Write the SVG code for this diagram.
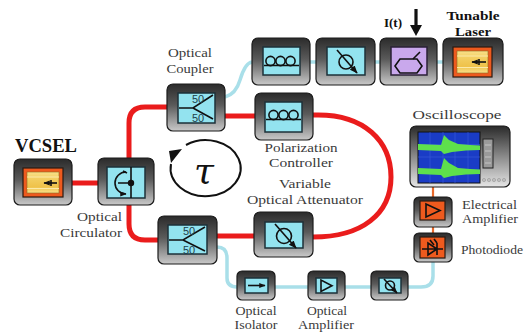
<svg xmlns="http://www.w3.org/2000/svg" width="524" height="334" viewBox="0 0 524 334">
  <defs>
    <linearGradient id="boxGrad" x1="0" y1="0" x2="0" y2="1">
      <stop offset="0" stop-color="#2b2b2b"/>
      <stop offset="0.45" stop-color="#5a5a5a"/>
      <stop offset="1" stop-color="#c9c9c9"/>
    </linearGradient>
    <linearGradient id="scopeGrad" x1="0" y1="0" x2="0" y2="1">
      <stop offset="0" stop-color="#2a2a2a"/>
      <stop offset="0.5" stop-color="#8a8a8a"/>
      <stop offset="1" stop-color="#e6e6e6"/>
    </linearGradient>
    <linearGradient id="yellowGrad" x1="0" y1="0" x2="0" y2="1">
      <stop offset="0" stop-color="#f8e08a"/>
      <stop offset="0.3" stop-color="#f3cf62"/>
      <stop offset="0.7" stop-color="#efc24a"/>
      <stop offset="1" stop-color="#f8e08a"/>
    </linearGradient>
    <marker id="tip" viewBox="0 0 10 10" refX="9" refY="5" markerWidth="5" markerHeight="5" orient="auto">
      <path d="M0,1 L10,5 L0,9 Z" fill="#111"/>
    </marker>
    <marker id="tipSmall" viewBox="0 0 10 10" refX="9" refY="5" markerWidth="4" markerHeight="4" orient="auto">
      <path d="M0,1 L10,5 L0,9 Z" fill="#111"/>
    </marker>
  </defs>
  <style>
    .box { fill: url(#boxGrad); stroke: #1b1b1b; stroke-width: 1.2; }
    .pane { fill: #93e3ef; stroke: #1d3138; stroke-width: 1.5; }
    .orange { fill: #ee5a1e; stroke: #2a1a12; stroke-width: 1.2; }
    .ink { fill: none; stroke: #111; stroke-width: 1.6; }
    .red { fill: none; stroke: #ea1c1c; stroke-width: 5; }
    .fiber { fill: none; stroke: #a9dfe9; stroke-width: 3.5; }
    .wire { fill: none; stroke: #e86a2c; stroke-width: 2.2; }
    .lbl { font-size: 13px; fill: #3a3a3a; }
    .bold { font-weight: bold; fill: #111; }
    .num { font-size: 11px; fill: #1d3f4a; }
  </style>

  <rect width="524" height="334" fill="#ffffff"/>

  <!-- connectors -->
  <g id="connectors">
    <!-- fibre loop (red) -->
    <path class="red" d="M72,183 L98,183"/>
    <path class="red" d="M167,107 L145,107 Q129,107 129,123 L129,159"/>
    <path class="red" d="M129,204 L129,224 Q129,240 145,240 L158,240"/>
    <path class="red" d="M225,116 L255,116"/>
    <path class="red" d="M217,236 L254,236"/>
    <path class="red" d="M313,115 C365,113 391,142 391,177 C391,214 362,237 313,237"/>
    <!-- fibre branches (light blue) -->
    <path class="fiber" d="M225,97 Q236,94 240,80 Q245,63 252,62"/>
    <path class="fiber" d="M310,62 L316,62 M375,62 L380,62 M437,62 L443,62"/>
    <path class="fiber" d="M217,247 Q227,247 227,258 L227,278 Q227,287 237,287"/>
    <path class="fiber" d="M275,287 L308,287 M345,287 L371,287"/>
    <path class="fiber" d="M408,287 L421,287 Q433,287 433,276 L433,262"/>
    <!-- electrical path -->
    <path class="wire" d="M433,187 L433,197 M433,227 L433,233"/>
    <!-- modulation current -->
    <path d="M416,9 L416,27" stroke="#111" stroke-width="3.2" fill="none"/>
    <path d="M410,25 L422,25 L416,36 Z" fill="#111"/>
  </g>

  <!-- round-trip delay symbol -->
  <g id="delay">
    <path d="M186,145 A35,28 0 1 1 171,164" fill="none" stroke="#111" stroke-width="2"/>
    <path d="M169,151 L182,149 L171,163 Z" fill="#111"/>
    <text x="204" y="183" text-anchor="middle" font-family="'DejaVu Serif', serif" font-style="italic" font-size="36" fill="#111">τ</text>
  </g>

  <g font-family="'Liberation Serif', 'DejaVu Serif', serif">
  <!-- VCSEL -->
  <g id="vcsel">
    <text class="bold" x="46" y="152" text-anchor="middle" font-size="18" textLength="62" lengthAdjust="spacingAndGlyphs">VCSEL</text>
    <rect class="box" x="14" y="159" width="58" height="46" rx="6"/>
    <rect class="orange" x="23" y="168" width="40" height="29"/>
    <rect x="27" y="172" width="32" height="21" fill="url(#yellowGrad)" stroke="#8a6a20" stroke-width="0.6"/>
    <path d="M27,177 H59 M27,188.5 H59" stroke="#fbe9a8" stroke-width="1.2"/>
    <path d="M57,183 L44,183" class="ink" stroke-width="1.2" marker-end="url(#tipSmall)"/>
    <path d="M51,180 L51,186" class="ink" stroke-width="1"/>
  </g>

  <!-- Optical circulator -->
  <g id="circulator">
    <rect class="box" x="98" y="158" width="56" height="47" rx="6"/>
    <rect class="pane" x="107" y="167" width="38" height="31"/>
    <path d="M131,167 L131,198 M118,183 L131,183" class="ink" stroke-width="1.5"/>
    <circle cx="131" cy="183" r="3.2" fill="#111"/>
    <path d="M126,172 A11,11 0 0 0 126,194" class="ink" stroke-width="1.3" marker-end="url(#tipSmall)"/>
    <path d="M123,171 L127,173" class="ink" stroke-width="1.2"/>
    <text class="lbl" x="122" y="221" text-anchor="end" textLength="45" lengthAdjust="spacingAndGlyphs">Optical</text>
    <text class="lbl" x="122" y="237" text-anchor="end" textLength="62" lengthAdjust="spacingAndGlyphs">Circulator</text>
  </g>

  <!-- Optical coupler (upper) -->
  <g id="coupler-top">
    <text class="lbl" x="190" y="57" text-anchor="middle" textLength="44" lengthAdjust="spacingAndGlyphs">Optical</text>
    <text class="lbl" x="190" y="73" text-anchor="middle" textLength="47" lengthAdjust="spacingAndGlyphs">Coupler</text>
    <rect class="box" x="167" y="84" width="58" height="47" rx="6"/>
    <rect class="pane" x="178" y="93" width="37" height="30"/>
    <path d="M179,108 L193,108 L213,95 M193,108 L213,119" class="ink" stroke-width="1.5"/>
    <text class="num" x="192" y="103" font-family="'Liberation Sans', Arial, sans-serif">50</text>
    <text class="num" x="192" y="122" font-family="'Liberation Sans', Arial, sans-serif">50</text>
  </g>

  <!-- Optical coupler (lower) -->
  <g id="coupler-bottom">
    <rect class="box" x="158" y="216" width="59" height="48" rx="6"/>
    <rect class="pane" x="168" y="225" width="39" height="29"/>
    <path d="M169,240 L183,240 L205,227 M183,240 L205,251" class="ink" stroke-width="1.5"/>
    <text class="num" x="183" y="235" font-family="'Liberation Sans', Arial, sans-serif">50</text>
    <text class="num" x="183" y="254" font-family="'Liberation Sans', Arial, sans-serif">50</text>
  </g>

  <!-- Polarization controller (loop) -->
  <g id="pol-controller">
    <rect class="box" x="255" y="93" width="58" height="47" rx="6"/>
    <rect class="pane" x="265" y="102" width="37" height="30"/>
    <circle cx="273.5" cy="115" r="4.6" class="ink" stroke-width="1.6"/>
    <circle cx="283.5" cy="115" r="4.6" class="ink" stroke-width="1.6"/>
    <circle cx="293.5" cy="115" r="4.6" class="ink" stroke-width="1.6"/>
    <path d="M266,119.5 L301,119.5" class="ink" stroke-width="1.6"/>
    <text class="lbl" x="301" y="152" text-anchor="middle" textLength="73" lengthAdjust="spacingAndGlyphs">Polarization</text>
    <text class="lbl" x="301" y="167" text-anchor="middle" textLength="64" lengthAdjust="spacingAndGlyphs">Controller</text>
  </g>

  <!-- Variable optical attenuator (loop) -->
  <g id="voa">
    <text class="lbl" x="305" y="188" text-anchor="middle" textLength="52" lengthAdjust="spacingAndGlyphs">Variable</text>
    <text class="lbl" x="305" y="204" text-anchor="middle" textLength="116" lengthAdjust="spacingAndGlyphs">Optical Attenuator</text>
    <rect class="box" x="254" y="212" width="59" height="45" rx="6"/>
    <rect class="pane" x="265" y="222" width="38" height="26"/>
    <circle cx="284" cy="236" r="7.5" class="ink" stroke-width="1.8"/>
    <path d="M275,224 L296,248" class="ink" stroke-width="1.8" marker-end="url(#tip)"/>
  </g>

  <!-- Branch: polarization controller -->
  <g id="pol-controller-2">
    <rect class="box" x="252" y="38" width="58" height="47" rx="6"/>
    <rect class="pane" x="263" y="47" width="37" height="28"/>
    <circle cx="270.5" cy="61" r="4.6" class="ink" stroke-width="1.6"/>
    <circle cx="280.5" cy="61" r="4.6" class="ink" stroke-width="1.6"/>
    <circle cx="290.5" cy="61" r="4.6" class="ink" stroke-width="1.6"/>
    <path d="M264,65.5 L299,65.5" class="ink" stroke-width="1.6"/>
  </g>

  <!-- Branch: attenuator -->
  <g id="attenuator-2">
    <rect class="box" x="316" y="38" width="59" height="47" rx="6"/>
    <rect class="pane" x="327" y="47" width="38" height="28"/>
    <circle cx="346" cy="62" r="7" class="ink" stroke-width="1.8"/>
    <path d="M337,50 L357,73" class="ink" stroke-width="1.8" marker-end="url(#tip)"/>
  </g>

  <!-- Branch: phase modulator driven by I(t) -->
  <g id="modulator">
    <text class="bold" x="393" y="27" text-anchor="middle" font-size="13">I(t)</text>
    <rect class="box" x="380" y="38" width="57" height="47" rx="6"/>
    <rect x="391" y="47" width="36" height="28" fill="#c9a8ec" stroke="#2a2036" stroke-width="1.5"/>
    <path d="M395,66 L400,59 L417,59 L422,66 L417,73 L400,73 Z" class="ink" stroke-width="1.8"/>
    <path d="M413,59 L420,52" class="ink" stroke-width="1.4"/>
  </g>

  <!-- Tunable laser -->
  <g id="tunable-laser">
    <text class="bold" x="473" y="20" text-anchor="middle" font-size="13" textLength="53" lengthAdjust="spacingAndGlyphs">Tunable</text>
    <text class="bold" x="473" y="36" text-anchor="middle" font-size="13" textLength="36" lengthAdjust="spacingAndGlyphs">Laser</text>
    <rect class="box" x="443" y="38" width="60" height="47" rx="6"/>
    <rect class="orange" x="453" y="47" width="39" height="30"/>
    <rect x="457" y="51" width="31" height="22" fill="url(#yellowGrad)" stroke="#8a6a20" stroke-width="0.6"/>
    <path d="M457,56 H488 M457,67.5 H488" stroke="#fbe9a8" stroke-width="1.2"/>
    <path d="M486,62 L472,62" class="ink" stroke-width="1.2" marker-end="url(#tipSmall)"/>
    <path d="M479,59 L479,65" class="ink" stroke-width="1"/>
  </g>

  <!-- Oscilloscope -->
  <g id="oscilloscope">
    <text class="lbl" x="457" y="119" text-anchor="middle" textLength="89" lengthAdjust="spacingAndGlyphs">Oscilloscope</text>
    <rect x="410" y="126" width="100" height="61" rx="6" fill="url(#scopeGrad)" stroke="#1b1b1b" stroke-width="1.2"/>
    <rect x="418" y="132" width="62" height="51" fill="#1a3cc6" stroke="#111" stroke-width="1"/>
    <path d="M418,144.5 H480 M418,157 H480 M418,170 H480 M430,132 V183 M443,132 V183 M455,132 V183 M468,132 V183" stroke="#3a5ad8" stroke-width="0.6"/>
    <path d="M418,144 L441,145 L444,135 L449,140 L458,144 L470,145 L480,145.5 L480,150 L466,150.5 L452,152 L444,154 L441,151 L418,150 Z" fill="#5ee04c"/>
    <path d="M418,168 L441,169 L444,158 L449,163 L458,168 L470,169 L480,169.5 L480,174 L466,174.5 L452,176 L444,178 L441,175 L418,174 Z" fill="#5ee04c"/>
    <rect x="483" y="139" width="10" height="29" fill="#9a9a9a" stroke="#222" stroke-width="1"/>
    <path d="M485,145 H491 M485,151 H491 M485,157 H491 M485,163 H491" stroke="#cfcfcf" stroke-width="0.8"/>
    <g fill="#c0c0c0" stroke="#8a8a8a" stroke-width="0.5">
      <circle cx="484" cy="180" r="1.6"/>
      <circle cx="489" cy="180" r="1.6"/>
      <circle cx="494" cy="180" r="1.6"/>
      <circle cx="499" cy="180" r="1.6"/>
      <circle cx="504" cy="180" r="1.6"/>
    </g>
  </g>

  <!-- Electrical amplifier -->
  <g id="electrical-amplifier">
    <rect class="box" x="414" y="197" width="38" height="30" rx="5"/>
    <rect class="orange" x="420" y="201" width="25" height="19"/>
    <path d="M426,204 L426,217 L440,210.5 Z" class="ink" stroke-width="1.5"/>
    <text class="lbl" x="462" y="209" textLength="55" lengthAdjust="spacingAndGlyphs">Electrical</text>
    <text class="lbl" x="462" y="223" textLength="56" lengthAdjust="spacingAndGlyphs">Amplifier</text>
  </g>

  <!-- Photodiode -->
  <g id="photodiode">
    <rect class="box" x="414" y="233" width="38" height="29" rx="5"/>
    <rect class="orange" x="420" y="237" width="25" height="21"/>
    <path d="M422,249 H443 M428,243 L428,255 L437,249 Z M437,243 V255" class="ink" stroke-width="1.3"/>
    <path d="M430,240 L434,245 M434,239 L437,243" class="ink" stroke-width="1"/>
    <text class="lbl" x="461" y="254" textLength="62" lengthAdjust="spacingAndGlyphs">Photodiode</text>
  </g>

  <!-- Optical isolator -->
  <g id="isolator">
    <rect class="box" x="237" y="271" width="38" height="29" rx="5"/>
    <rect class="pane" x="245" y="278" width="23" height="15"/>
    <path d="M248,285.5 L265,285.5" class="ink" stroke-width="1.8" marker-end="url(#tipSmall)"/>
    <text class="lbl" x="256" y="315" text-anchor="middle" textLength="41" lengthAdjust="spacingAndGlyphs">Optical</text>
    <text class="lbl" x="256" y="329" text-anchor="middle" textLength="43" lengthAdjust="spacingAndGlyphs">Isolator</text>
  </g>

  <!-- Optical amplifier -->
  <g id="optical-amplifier">
    <rect class="box" x="308" y="271" width="37" height="29" rx="5"/>
    <rect class="pane" x="316" y="278" width="21" height="15"/>
    <path d="M321,280 L321,291.5 L332,285.7 Z" class="ink" stroke-width="1.4"/>
    <text class="lbl" x="327" y="315" text-anchor="middle" textLength="40" lengthAdjust="spacingAndGlyphs">Optical</text>
    <text class="lbl" x="326" y="329" text-anchor="middle" textLength="56" lengthAdjust="spacingAndGlyphs">Amplifier</text>
  </g>

  <!-- Attenuator before detector -->
  <g id="attenuator-3">
    <rect class="box" x="371" y="271" width="37" height="29" rx="5"/>
    <rect class="pane" x="379" y="278" width="22" height="15"/>
    <circle cx="390" cy="285.5" r="4.5" class="ink" stroke-width="1.4"/>
    <path d="M384,279 L397,293" class="ink" stroke-width="1.4" marker-end="url(#tipSmall)"/>
  </g>
  </g>
</svg>
